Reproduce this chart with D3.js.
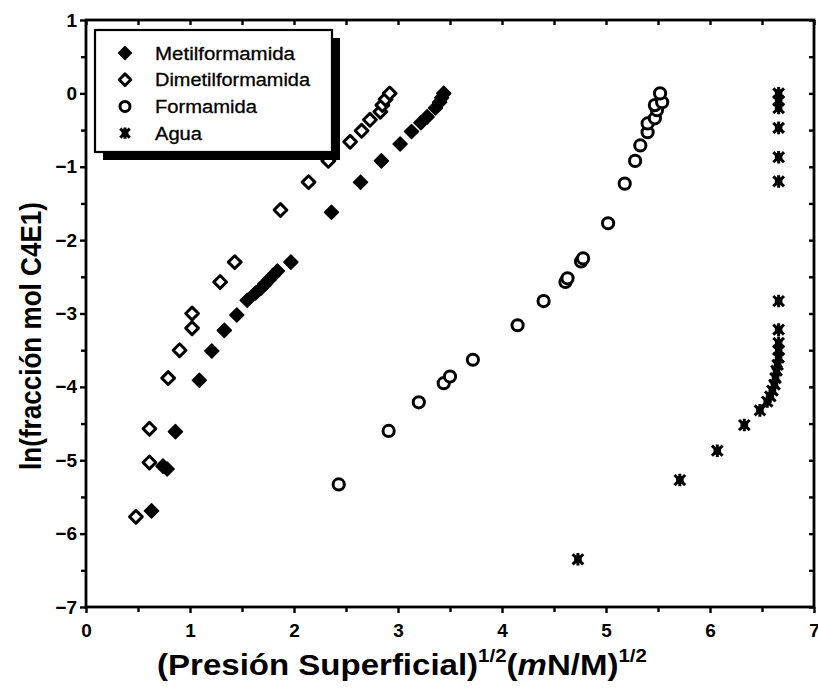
<!DOCTYPE html>
<html>
<head>
<meta charset="utf-8">
<script src="https://cdn.jsdelivr.net/npm/d3@7/dist/d3.min.js"></script>
<style>
  html, body { margin: 0; padding: 0; background: #fff; }
  svg { display: block; }
  text { font-family: "Liberation Sans", Arial, sans-serif; fill: #000; }
</style>
</head>
<body>
<svg id="chart" width="818" height="690"></svg>
<script>
// Series: [sqrt(surface pressure), ln(mole fraction C4E1)]
const metilformamida = [
  [0.63,-5.69],[0.74,-5.08],[0.78,-5.12],[0.86,-4.61],[1.09,-3.91],[1.21,-3.51],
  [1.33,-3.23],[1.45,-3.02],[1.55,-2.82],[1.63,-2.72],[1.68,-2.66],[1.72,-2.60],
  [1.76,-2.54],[1.80,-2.48],[1.84,-2.42],[1.97,-2.30],[2.36,-1.62],[2.64,-1.21],
  [2.84,-0.92],[3.02,-0.69],[3.13,-0.52],[3.22,-0.40],[3.28,-0.32],[3.36,-0.20],
  [3.40,-0.12],[3.42,-0.06],[3.44,0.00]
];
const dimetilformamida = [
  [0.48,-5.77],[0.61,-5.03],[0.61,-4.57],[0.79,-3.88],[0.90,-3.50],[1.02,-3.20],
  [1.02,-3.00],[1.29,-2.57],[1.43,-2.30],[1.87,-1.59],[2.14,-1.21],[2.33,-0.92],
  [2.54,-0.66],[2.65,-0.51],[2.73,-0.36],[2.83,-0.25],[2.85,-0.16],[2.88,-0.08],
  [2.92,0.00]
];
const formamida = [
  [2.43,-5.33],[2.91,-4.60],[3.20,-4.21],[3.44,-3.95],[3.50,-3.86],[3.72,-3.63],
  [4.15,-3.16],[4.40,-2.83],[4.61,-2.57],[4.63,-2.52],[4.76,-2.29],[4.78,-2.25],
  [5.02,-1.77],[5.18,-1.23],[5.28,-0.92],[5.33,-0.71],[5.40,-0.53],[5.40,-0.41],
  [5.47,-0.34],[5.49,-0.23],[5.47,-0.16],[5.54,-0.12],[5.52,0.00]
];
const agua = [
  [4.73,-6.35],[5.71,-5.27],[6.07,-4.87],[6.33,-4.52],[6.48,-4.32],[6.55,-4.20],
  [6.58,-4.13],[6.60,-4.05],[6.62,-3.97],[6.63,-3.88],[6.64,-3.78],[6.65,-3.70],
  [6.66,-3.60],[6.66,-3.50],[6.66,-3.40],[6.66,-3.22],[6.66,-2.83],[6.66,-1.20],
  [6.66,-0.87],[6.66,-0.47],[6.66,-0.20],[6.66,-0.10],[6.66,0.00]
];

const seriesNames = ["Metilformamida", "Dimetilformamida", "Formamida", "Agua"];
const xMajor = [0, 1, 2, 3, 4, 5, 6, 7];
const yMajor = [1, 0, -1, -2, -3, -4, -5, -6, -7];
const xMinor = [0.5, 1.5, 2.5, 3.5, 4.5, 5.5, 6.5];
const yMinor = [0.5, -0.5, -1.5, -2.5, -3.5, -4.5, -5.5, -6.5];

const svg = d3.select("#chart");
const plotL = 86, plotR = 814, plotT = 20, plotB = 607;

const x = d3.scaleLinear().domain([0, 7]).range([plotL, plotR]);
const y = d3.scaleLinear().domain([-7, 1]).range([plotB, plotT]);

const axW = 2.8;
function styleAxis(g) {
  g.select(".domain").remove();
  g.selectAll(".tick line").attr("stroke", "#000").attr("stroke-width", 2.4);
}

// bottom axis (ticks outward, labelled)
svg.append("g").attr("transform", `translate(0,${plotB})`)
  .call(d3.axisBottom(x).tickValues(xMajor).tickSize(6).tickPadding(11).tickFormat(d3.format("d")))
  .call(styleAxis)
  .call(g => g.selectAll("text").attr("font-size", 19).attr("font-weight", "bold"));
svg.append("g").attr("transform", `translate(0,${plotB})`)
  .call(d3.axisBottom(x).tickValues(xMinor).tickSize(5).tickFormat(""))
  .call(styleAxis);

// left axis (ticks outward, labelled)
svg.append("g").attr("transform", `translate(${plotL},0)`)
  .call(d3.axisLeft(y).tickValues(yMajor).tickSize(6).tickPadding(3).tickFormat(d3.format("d")))
  .call(styleAxis)
  .call(g => g.selectAll("text").attr("font-size", 19).attr("font-weight", "bold"));
svg.append("g").attr("transform", `translate(${plotL},0)`)
  .call(d3.axisLeft(y).tickValues(yMinor).tickSize(5).tickFormat(""))
  .call(styleAxis);

// top axis (ticks inward)
svg.append("g").attr("transform", `translate(0,${plotT})`)
  .call(d3.axisBottom(x).tickValues(xMajor.concat(xMinor)).tickSize(5).tickFormat(""))
  .call(styleAxis);
// right axis (ticks inward)
svg.append("g").attr("transform", `translate(${plotR},0)`)
  .call(d3.axisLeft(y).tickValues(yMajor.concat(yMinor)).tickSize(5).tickFormat(""))
  .call(styleAxis);

svg.append("rect")
  .attr("x", plotL).attr("y", plotT)
  .attr("width", plotR - plotL).attr("height", plotB - plotT)
  .attr("fill", "none").attr("stroke", "#000").attr("stroke-width", axW);

// marker painters
const diamondPath = (s) => `M0,${-s}L${s},0L0,${s}L${-s},0Z`;
const asteriskPath = (s) =>
  `M0,${-s}L0,${s}M${-s*0.85},${-s*0.8}L${s*0.85},${s*0.8}M${s*0.85},${-s*0.8}L${-s*0.85},${s*0.8}`;

function drawFilledDiamond(g, px, py, s) {
  g.append("path").attr("d", diamondPath(s)).attr("transform", `translate(${px},${py})`)
    .attr("fill", "#000").attr("stroke", "#000").attr("stroke-width", 1.5).attr("stroke-linejoin", "round");
}
function drawOpenDiamond(g, px, py, s) {
  g.append("path").attr("d", diamondPath(s)).attr("transform", `translate(${px},${py})`)
    .attr("fill", "#fff").attr("stroke", "#000").attr("stroke-width", 3).attr("stroke-linejoin", "round");
}
function drawCircle(g, px, py, r) {
  g.append("circle").attr("cx", px).attr("cy", py).attr("r", r)
    .attr("fill", "#fff").attr("stroke", "#000").attr("stroke-width", 3);
}
function drawAsterisk(g, px, py, s) {
  g.append("rect").attr("x", px - s*0.6).attr("y", py - s*0.6)
    .attr("width", s*1.2).attr("height", s*1.2).attr("fill", "#000");
  g.append("path").attr("d", asteriskPath(s)).attr("transform", `translate(${px},${py})`)
    .attr("fill", "none").attr("stroke", "#000").attr("stroke-width", 3);
}

const marks = svg.append("g");
metilformamida.forEach(d => drawFilledDiamond(marks, x(d[0]), y(d[1]), 7));
dimetilformamida.forEach(d => drawOpenDiamond(marks, x(d[0]), y(d[1]), 6.4));
formamida.forEach(d => drawCircle(marks, x(d[0]), y(d[1]), 5.6));
agua.forEach(d => drawAsterisk(marks, x(d[0]), y(d[1]), 6.3));

// legend with drop shadow
const lg = svg.append("g");
const lx = 95, ly = 30, lw = 237, lh = 122, sh = 8;
lg.append("rect").attr("x", lx + sh).attr("y", ly + sh).attr("width", lw).attr("height", lh).attr("fill", "#000");
lg.append("rect").attr("x", lx).attr("y", ly).attr("width", lw).attr("height", lh)
  .attr("fill", "#fff").attr("stroke", "#000").attr("stroke-width", 2.2);

const painters = [
  (g, px, py) => drawFilledDiamond(g, px, py, 6.4),
  (g, px, py) => drawOpenDiamond(g, px, py, 5.8),
  (g, px, py) => drawCircle(g, px, py, 5.0),
  (g, px, py) => drawAsterisk(g, px, py, 5.6)
];
const textWidths = [140, 155, 102, 47];
seriesNames.forEach((name, i) => {
  const ry = 53 + i * 26.7;
  painters[i](lg, 125, ry);
  lg.append("text").attr("x", 155).attr("y", ry + 6.5)
    .attr("font-size", 18).attr("stroke", "#000").attr("stroke-width", 0.3)
    .attr("textLength", textWidths[i]).attr("lengthAdjust", "spacingAndGlyphs")
    .text(name);
});

// axis titles: heavy condensed lettering, squeezed to a fixed width
function fitWidth(sel, cx, cy, target, rotate) {
  const w = sel.node().getComputedTextLength();
  const k = target / w;
  sel.attr("transform", rotate
    ? `translate(${cx},${cy}) rotate(-90) scale(${k},1)`
    : `translate(${cx},${cy}) scale(${k},1)`);
}

const xt = svg.append("text").attr("x", 0).attr("y", 0)
  .attr("text-anchor", "middle").attr("font-size", 29).attr("font-weight", "bold");
xt.append("tspan").text("(Presión Superficial)");
xt.append("tspan").attr("font-size", 18).attr("dy", -13).text("1/2");
xt.append("tspan").attr("dy", 13).text("(");
xt.append("tspan").attr("font-style", "italic").text("m");
xt.append("tspan").text("N/M)");
xt.append("tspan").attr("font-size", 18).attr("dy", -13).text("1/2");
fitWidth(xt, 402, 675, 490, false);

const yt = svg.append("text").attr("x", 0).attr("y", 0)
  .attr("text-anchor", "middle").attr("font-size", 29).attr("font-weight", "bold")
  .text("ln(fracción mol C4E1)");
fitWidth(yt, 41, 336, 268, true);
</script>
</body>
</html>
